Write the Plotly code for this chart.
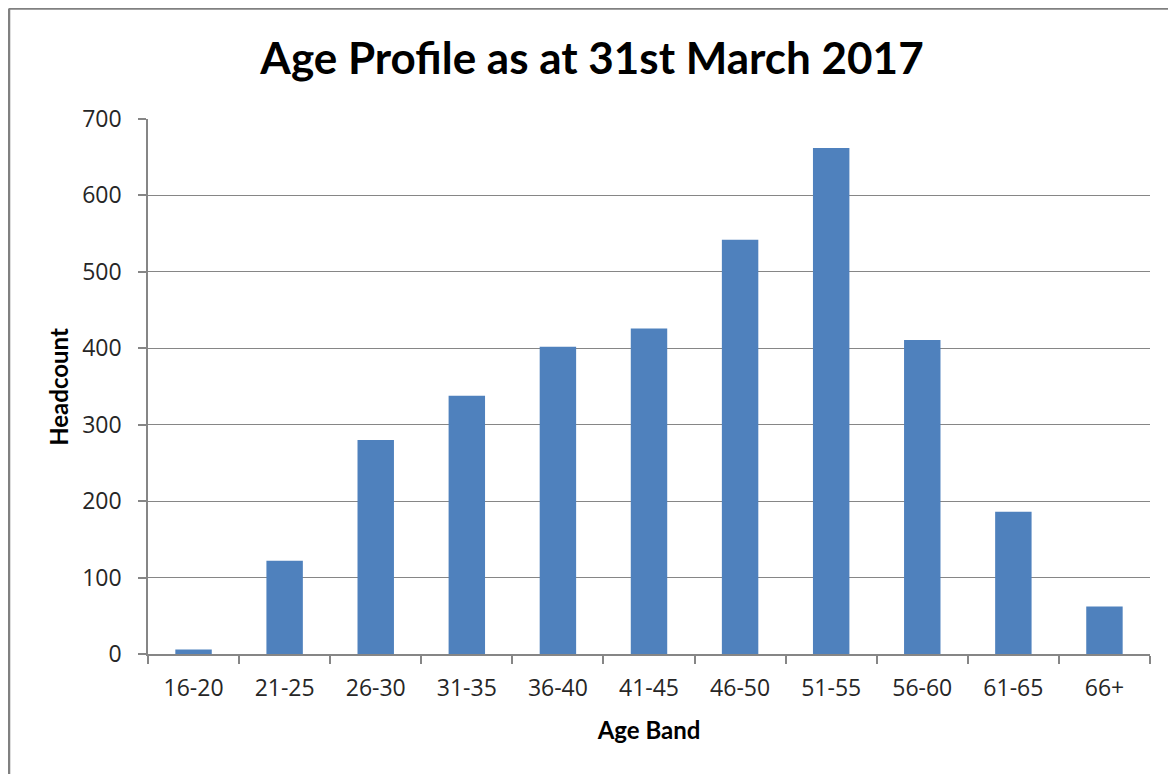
import plotly.graph_objects as go

categories = ["16-20", "21-25", "26-30", "31-35", "36-40", "41-45",
              "46-50", "51-55", "56-60", "61-65", "66+"]
headcount = [6, 122, 280, 338, 402, 426, 542, 662, 411, 186, 62]
y_ticks = [0, 100, 200, 300, 400, 500, 600, 700]

FONT = "Lato, 'Open Sans', sans-serif"
TICKFONT = "'Open Sans', Lato, sans-serif"

fig = go.Figure()
fig.add_trace(go.Bar(
    x=categories, y=headcount,
    marker=dict(color="#4F81BD", line=dict(width=0)),
    width=0.4,
))

fig.update_layout(
    width=1168, height=766,
    margin=dict(l=140, r=26, t=111, b=120),
    paper_bgcolor="white", plot_bgcolor="white",
    showlegend=False,
    font=dict(family=FONT, color="#262626"),
    title=dict(text="<b>Age Profile as at 31st March 2017</b>",
               x=0.5, xanchor="center", y=0.934, yanchor="middle",
               font=dict(size=44, color="#000000", family=FONT)),
    xaxis=dict(
        title=dict(text="<b>Age Band</b>", font=dict(size=24, color="#000000", family=FONT), standoff=20),
        tickfont=dict(size=23, color="#262626", family=TICKFONT),
        showline=True, linecolor="#868686", linewidth=1.5,
        ticks="outside", ticklen=8, tickcolor="#868686", tickwidth=1.5,
        tickson="boundaries", showgrid=False,
        ticklabelstandoff=13,
    ),
    yaxis=dict(
        tickfont=dict(size=23, color="#262626", family=TICKFONT),
        range=[0, 700], tickvals=y_ticks,
        showline=True, linecolor="#868686", linewidth=1.5,
        ticks="outside", ticklen=8, tickcolor="#868686", tickwidth=1.5,
        showgrid=True, gridcolor="#868686", gridwidth=1,
        zeroline=False,
        ticklabelstandoff=12,
    ),
    annotations=[
        dict(text="<b>Headcount</b>", textangle=-90,
             xref="paper", yref="paper", x=-0.0895, y=0.5,
             xanchor="center", yanchor="middle", showarrow=False,
             font=dict(size=24, color="#000000", family=FONT)),
    ],
    shapes=[
        dict(type="line", xref="paper", yref="paper",
             x0=-0.1387, x1=1.03, y0=1.2065, y1=1.2065,
             line=dict(color="#808080", width=2.5)),
        dict(type="line", xref="paper", yref="paper",
             x0=-0.1387, x1=-0.1387, y0=1.2065, y1=-0.23,
             line=dict(color="#808080", width=2.5)),
    ],
)

fig.write_html("out.html")
